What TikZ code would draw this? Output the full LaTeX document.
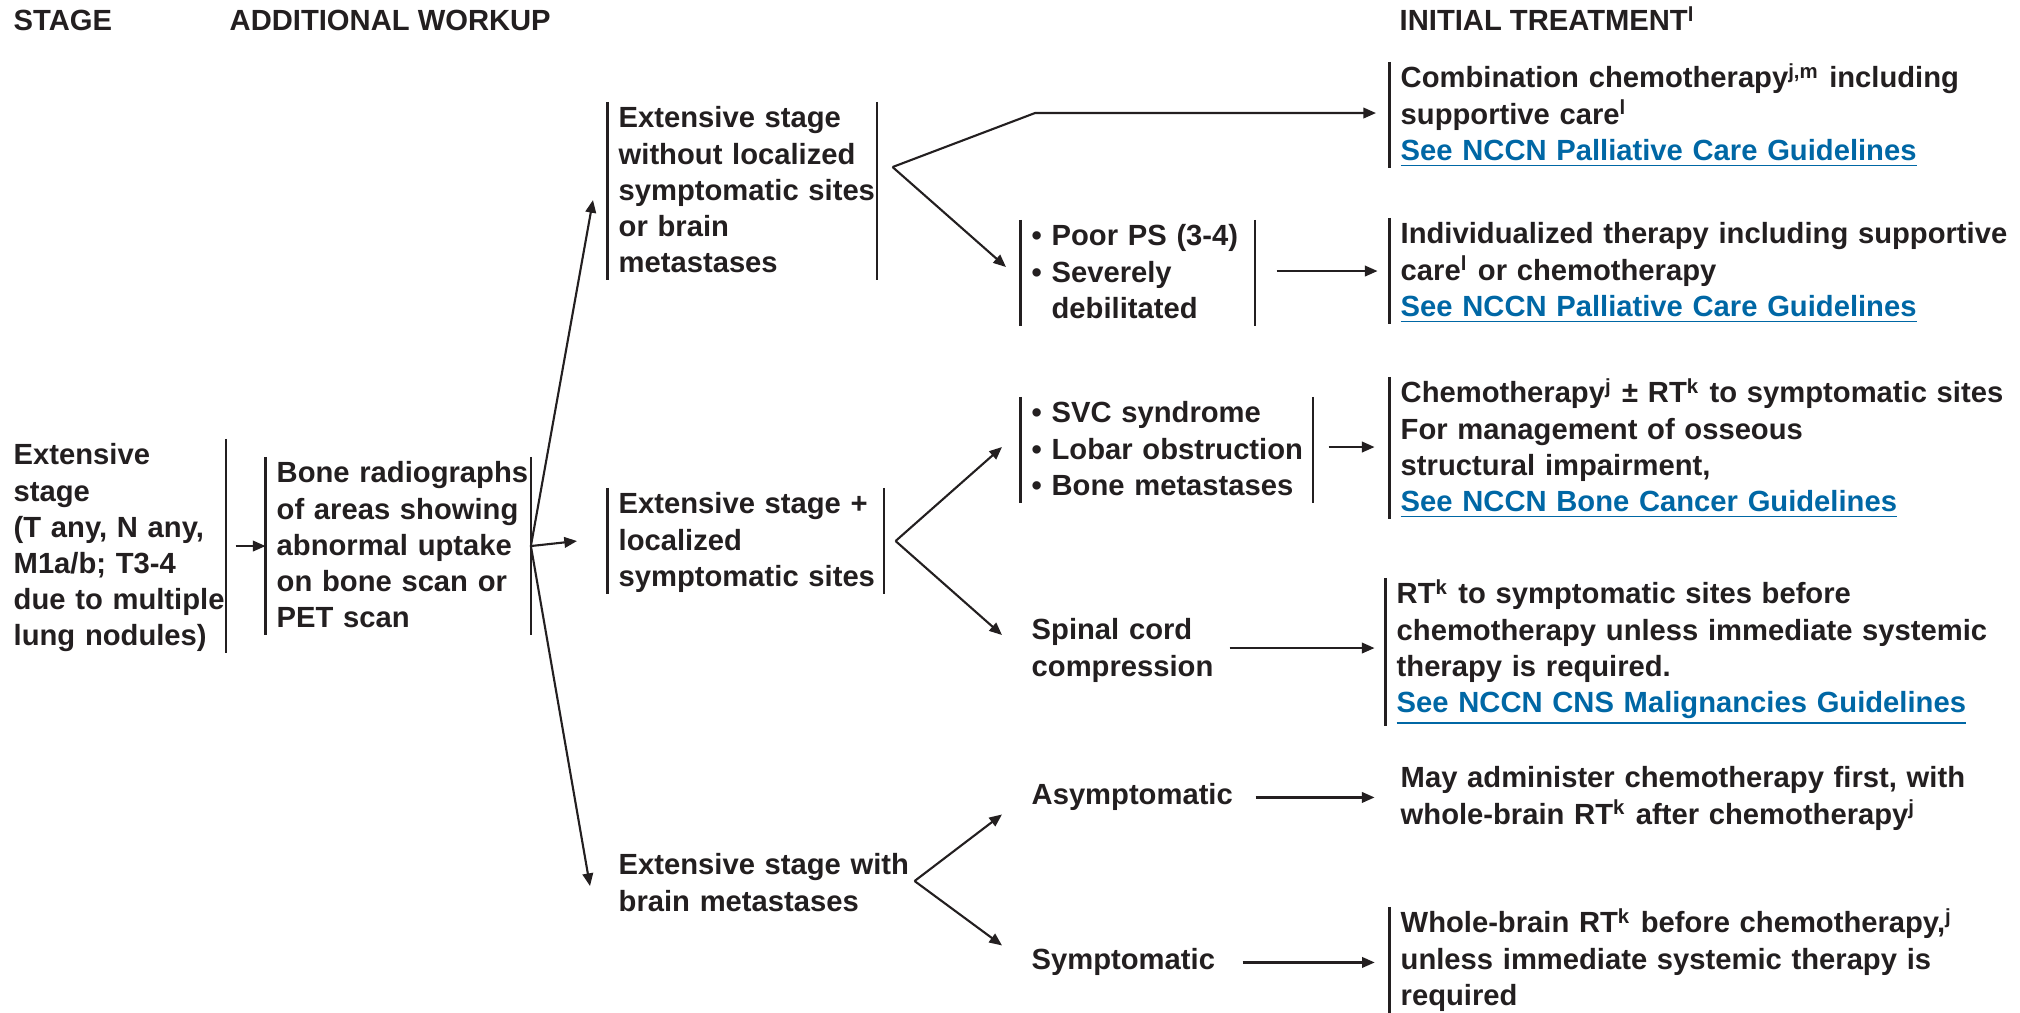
\documentclass[tikz,border=0pt]{standalone}
\usepackage{fontspec}
\setmainfont{Liberation Sans}
\usetikzlibrary{arrows.meta, positioning, calc}
\definecolor{linkblue}{RGB}{0, 103, 165}
\definecolor{inkgray}{RGB}{35, 31, 32}
\newcommand{\fnote}[1]{\textsuperscript{\fontsize{5.8}{6}\selectfont #1}}
\newcommand{\nccn}[1]{{\color{linkblue}\underline{#1}}}
\newcommand{\rowstrut}{\vrule height 7.2pt depth 2.1pt width 0pt}

\begin{document}
\begin{tikzpicture}[x=0.01cm, y=-0.01cm,
  txt/.style={font=\fontsize{8.3}{10.24}\selectfont\bfseries, text=inkgray, inner sep=0pt, anchor=base west},
  box/.style={txt, align=left, text width=#1, execute at begin node=\rowstrut, execute at end node=\rowstrut},
  arr/.style={-{Triangle[length=3.6pt,width=3pt]}, line width=0.6pt, inkgray},
  bar/.style={line width=0.6pt, inkgray}]
  \useasboundingbox (0,0) rectangle (2020,1013);

  % column headings
  \node[txt] (hstage) at (13,31) {STAGE};
  \node[txt] (hworkup) at (229,31) {ADDITIONAL WORKUP};
  \node[txt] (htreat) at (1399,31) {INITIAL TREATMENT\fnote{l}};

  % stage and workup
  \node[box=2.24cm] (stage) at (13,465) {Extensive\\stage\\(T any, N any,\\M1a/b; T3-4\\due to multiple\\lung nodules)};
  \node[box=2.66cm] (workup) at (276,483) {Bone radiographs\\of areas showing\\abnormal uptake\\on bone scan or\\PET scan};

  % extensive stage groups
  \node[box=2.70cm] (extA) at (618,128) {Extensive stage\\without localized\\symptomatic sites\\or brain\\metastases};
  \node[box=2.77cm] (extB) at (618,514) {Extensive stage +\\localized\\symptomatic sites};
  \node[box=2.95cm] (extC) at (618,875) {Extensive stage with\\brain metastases};

  % conditions
  \node[box=2.35cm] (poorps) at (1031,246) {\textbullet\ Poor PS (3-4)\\\textbullet\ Severely\\\phantom{\textbullet\ }debilitated};
  \node[box=2.93cm] (svc) at (1031,423) {\textbullet\ SVC syndrome\\\textbullet\ Lobar obstruction\\\textbullet\ Bone metastases};
  \node[box=1.90cm] (spinal) at (1031,640) {Spinal cord\\compression};
  \node[txt] (asympt) at (1031,805) {Asymptomatic};
  \node[txt] (sympt) at (1031,970) {Symptomatic};

  % initial treatment
  \node[box=6.2cm] (trtA) at (1400,88) {Combination chemotherapy\fnote{j,m} including\\supportive care\fnote{l}\\\nccn{See NCCN Palliative Care Guidelines}};
  \node[box=6.2cm] (trtB) at (1400,244) {Individualized therapy including supportive\\care\fnote{l} or chemotherapy\\\nccn{See NCCN Palliative Care Guidelines}};
  \node[box=6.2cm] (trtC) at (1400,403) {Chemotherapy\fnote{j} ± RT\fnote{k} to symptomatic sites\\For management of osseous\\structural impairment,\\\nccn{See NCCN Bone Cancer Guidelines}};
  \node[box=6.2cm] (trtD) at (1396,604) {RT\fnote{k} to symptomatic sites before\\chemotherapy unless immediate systemic\\therapy is required.\\\nccn{See NCCN CNS Malignancies Guidelines}};
  \node[box=6.2cm, execute at begin node={}, execute at end node={}] (trtE) at (1400,788) {May administer chemotherapy first, with\\whole-brain RT\fnote{k} after chemotherapy\fnote{j}};
  \node[box=6.2cm] (trtF) at (1400,933) {Whole-brain RT\fnote{k} before chemotherapy,\fnote{j}\\unless immediate systemic therapy is\\required};

  % bars
  \foreach \n in {workup,extA,extB,poorps,svc,trtA,trtB,trtC,trtD,trtF}
    \draw[bar] ([xshift=-3pt]\n.north west) -- ([xshift=-3pt]\n.south west);
  \foreach \n in {stage,workup,extA,extB,poorps,svc}
    \draw[bar] ([xshift=-3.6pt]\n.north east) -- ([xshift=-3.6pt]\n.south east);

  % fork points
  \coordinate (f0) at ([xshift=-3.6pt]workup.east);
  \coordinate (fA) at ($(extA.east)+(3,-24)$);
  \coordinate (fB) at ($(extB.east)+(-1,0)$);
  \coordinate (fC) at ($(extC.east)+(0,-3)$);

  % connectors
  \draw[arr] ($(stage.east)+(-3,0)$) -- ++(30,0);
  \draw[arr] (f0) -- ($(extA.west)+(-25,9)$);
  \draw[arr] (f0) -- ($(extB.west)+(-41,0)$);
  \draw[arr] (f0) -- ($(extC.west)+(-28,2)$);

  \draw[arr] (fA) -- ($(trtA.west)+(-365,-2)$) -- ($(trtA.west)+(-24,-2)$);
  \draw[arr] (fA) -- ($(poorps.west)+(-25,-6)$);
  \draw[arr] ($(poorps.east)+(9,-2)$) -- ++(101,0);

  \draw[arr] (fB) -- ($(svc.west)+(-29,-3)$);
  \draw[arr] (fB) -- ($(spinal.west)+(-29,-14)$);
  \draw[arr] ($(svc.east)+(3,-3)$) -- ++(46,0);
  \draw[arr] ($(spinal.east)+(7,-1)$) -- ++(145,0);

  \draw[arr] (fC) -- ($(asympt.west)+(-29,17)$);
  \draw[arr] (fC) -- ($(sympt.west)+(-29,-17)$);
  \draw[arr] ($(asympt.east)+(22,0)$) -- ++(119,0);
  \draw[arr] ($(sympt.east)+(27,0)$) -- ++(132,0);
\end{tikzpicture}
\end{document}
